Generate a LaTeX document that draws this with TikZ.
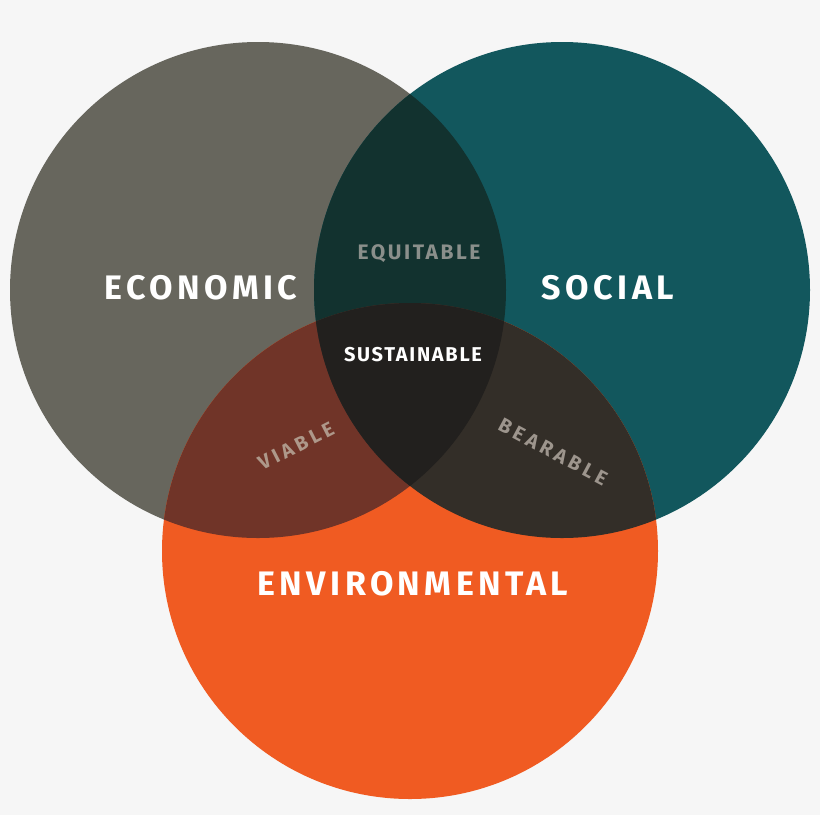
\documentclass[tikz,border=0pt]{standalone}
\usepackage{fontspec}
\setmainfont{Fira Sans}
\newfontfamily\bigfont[LetterSpace=13]{Fira Sans}
\newfontfamily\eqfont[LetterSpace=12]{Fira Sans}
\newfontfamily\susfont[LetterSpace=8.5]{Fira Sans}
\newfontfamily\arcfont[LetterSpace=20]{Fira Sans}
\definecolor{bg}{HTML}{F6F6F6}
\definecolor{econ}{HTML}{67665D}
\definecolor{soc}{HTML}{12575D}
\definecolor{env}{HTML}{F05B22}
\definecolor{es}{HTML}{12322F}
\definecolor{ee}{HTML}{703428}
\definecolor{se}{HTML}{332E28}
\definecolor{all}{HTML}{22201E}
\definecolor{equit}{HTML}{8A8F8B}
\definecolor{viab}{HTML}{AE988A}
\definecolor{bear}{HTML}{9D958D}
\tikzset{
  big/.style={font=\bigfont\bfseries\fontsize{34}{38}\selectfont, text=white, inner sep=0pt},
  eqstyle/.style={font=\eqfont\bfseries\fontsize{21}{24}\selectfont, inner sep=0pt},
  susstyle/.style={font=\susfont\bfseries\fontsize{20}{23}\selectfont, inner sep=0pt},
  arcstyle/.style={font=\arcfont\bfseries\fontsize{20}{23}\selectfont, inner sep=0pt},
}
\begin{document}
\begin{tikzpicture}[x=1pt,y=-1pt]
\fill[bg] (0,0) rectangle (820,815);
\useasboundingbox (0,0) rectangle (820,815);
\def\R{248}
\coordinate (ce) at (258,290);
\coordinate (cs) at (562,290);
\coordinate (cv) at (410,551);
\fill[econ] (ce) circle[radius=\R];
\fill[soc] (cs) circle[radius=\R];
\fill[env] (cv) circle[radius=\R];
\begin{scope}
  \clip (ce) circle[radius=\R];
  \fill[es] (cs) circle[radius=\R];
  \fill[ee] (cv) circle[radius=\R];
\end{scope}
\begin{scope}
  \clip (cs) circle[radius=\R];
  \fill[se] (cv) circle[radius=\R];
\end{scope}
\begin{scope}
  \clip (ce) circle[radius=\R];
  \clip (cs) circle[radius=\R];
  \fill[all] (cv) circle[radius=\R];
\end{scope}
\node[big] (econl) at (201,288) {ECONOMIC};
\node[big] (socl) at (608,288) {SOCIAL};
\node[big] (envl) at (413,584) {ENVIRONMENTAL};
\node[eqstyle, text=equit] (equl) at (419,254) {EQUITABLE};
\node[susstyle, text=white] (susl) at (413,355) {SUSTAINABLE};
\node[arcstyle, text=viab, rotate=27] (viabl) at (296,446) {VIABLE};
\node[arcstyle, text=bear, rotate=-28] (bearl) at (553,452) {BEARABLE};
\end{tikzpicture}
\end{document}
